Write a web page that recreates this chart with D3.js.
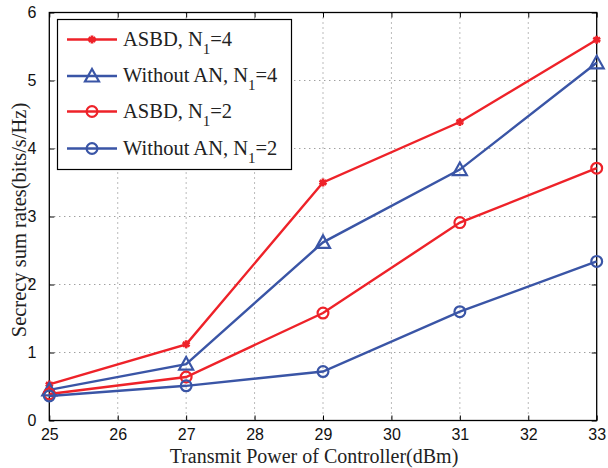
<!DOCTYPE html>
<html><head><meta charset="utf-8">
<script src="https://cdn.jsdelivr.net/npm/d3@7"></script>
<style>body{margin:0;background:#fff}</style>
</head><body>
<svg id="c" width="608" height="468"></svg>
<script>
const xValues = [25, 27, 29, 31, 33];
const asbd4 = [0.53, 1.12, 3.50, 4.39, 5.60];
const noAN4 = [0.45, 0.83, 2.62, 3.69, 5.26];
const asbd2 = [0.39, 0.64, 1.58, 2.91, 3.71];
const noAN2 = [0.36, 0.51, 0.72, 1.60, 2.34];
const xTicks = [25, 26, 27, 28, 29, 30, 31, 32, 33];
const yTicks = [0, 1, 2, 3, 4, 5, 6];
const seriesNames = ["ASBD, N", "Without AN, N", "ASBD, N", "Without AN, N"];
const seriesN = ["4", "4", "2", "2"];

const RED = "#ee2229", BLUE = "#3a55a6";
const series = [
  {vals: asbd4, color: RED, marker: "star"},
  {vals: noAN4, color: BLUE, marker: "tri"},
  {vals: asbd2, color: RED, marker: "circle"},
  {vals: noAN2, color: BLUE, marker: "circle"}
];

const svg = d3.select("#c");
const L = 49.3, R = 596.7, T = 12.5, B = 420.5;
const x = d3.scaleLinear().domain([25, 33]).range([L, R]);
const y = d3.scaleLinear().domain([0, 6]).range([B, T]);

// grid
const g = svg.append("g");
g.selectAll(".gx").data(xTicks.slice(1, -1)).join("line")
  .attr("x1", d => x(d)).attr("x2", d => x(d)).attr("y1", T).attr("y2", B)
  .attr("stroke", "#777").attr("stroke-width", 1).attr("stroke-dasharray", "1,4");
g.selectAll(".gy").data(yTicks.slice(1, -1)).join("line")
  .attr("y1", d => y(d)).attr("y2", d => y(d)).attr("x1", L).attr("x2", R)
  .attr("stroke", "#777").attr("stroke-width", 1).attr("stroke-dasharray", "1,4");

// axes
const fontTick = "'Liberation Sans', Arial, sans-serif";
const xAxis = d3.axisBottom(x).tickValues(xTicks).tickSize(-5).tickPadding(8).tickFormat(d3.format("d"));
const yAxis = d3.axisLeft(y).tickValues(yTicks).tickSize(-5).tickPadding(13).tickFormat(d3.format("d"));
const xTop = d3.axisTop(x).tickValues(xTicks).tickSize(-5).tickFormat("");
const yRight = d3.axisRight(y).tickValues(yTicks).tickSize(-5).tickFormat("");
function style(sel) {
  sel.select(".domain").remove();
  sel.selectAll("line").attr("stroke", "#000").attr("stroke-width", 1);
  sel.selectAll("text").attr("font-family", fontTick).attr("font-size", 16).attr("fill", "#111");
}
svg.append("g").attr("transform", `translate(0,${B})`).call(xAxis).call(style);
svg.append("g").attr("transform", `translate(${L},0)`).call(yAxis).call(style);
svg.append("g").attr("transform", `translate(0,${T})`).call(xTop).call(style);
svg.append("g").attr("transform", `translate(${R},0)`).call(yRight).call(style);
svg.append("rect").attr("x", L).attr("y", T).attr("width", R - L).attr("height", B - T)
  .attr("fill", "none").attr("stroke", "#000").attr("stroke-width", 1.3);

// titles
const fontSerif = "'Liberation Serif', 'Times New Roman', serif";
svg.append("text").attr("x", 314).attr("y", 463).attr("text-anchor", "middle")
  .attr("font-family", fontSerif).attr("font-size", 20).attr("fill", "#222")
  .text("Transmit Power of Controller(dBm)");
svg.append("text").attr("transform", `translate(26,220) rotate(-90)`).attr("text-anchor", "middle")
  .attr("font-family", fontSerif).attr("font-size", 20.5).attr("fill", "#222")
  .text("Secrecy sum rates(bits/s/Hz)");

function drawMarker(sel, m, color) {
  if (m === "star") {
    sel.append("path").attr("d", d3.symbol(d3.symbolAsterisk, 45)()).attr("fill", "none")
      .attr("stroke", color).attr("stroke-width", 2.8);
  } else if (m === "tri") {
    sel.append("path").attr("d", "M0,-7L7,5.5L-7,5.5Z").attr("fill", "none")
      .attr("stroke", color).attr("stroke-width", 2.2);
  } else {
    sel.append("circle").attr("r", 5.4).attr("fill", "none")
      .attr("stroke", color).attr("stroke-width", 2.2);
  }
}

const line = d3.line().x((d, i) => x(xValues[i])).y(d => y(d));
series.forEach(s => {
  svg.append("path").attr("d", line(s.vals)).attr("fill", "none")
    .attr("stroke", s.color).attr("stroke-width", 2.4);
  s.vals.forEach((v, i) => {
    const mg = svg.append("g").attr("transform", `translate(${x(xValues[i])},${y(v)})`);
    drawMarker(mg, s.marker, s.color);
  });
});

// legend
const lg = svg.append("g");
lg.append("rect").attr("x", 57.5).attr("y", 19.5).attr("width", 234).attr("height", 150)
  .attr("fill", "#fff").attr("stroke", "#000").attr("stroke-width", 1.2);
const rowY = [39.5, 76, 111.5, 148.5];
series.forEach((s, i) => {
  const ry = rowY[i];
  lg.append("line").attr("x1", 67).attr("x2", 117).attr("y1", ry).attr("y2", ry)
    .attr("stroke", s.color).attr("stroke-width", 2.4);
  const mg = lg.append("g").attr("transform", `translate(92,${ry})`);
  drawMarker(mg, s.marker, s.color);
  const t = lg.append("text").attr("x", 123).attr("y", ry + 6)
    .attr("font-family", fontSerif).attr("font-size", 20.5).attr("fill", "#222");
  t.append("tspan").text(seriesNames[i]);
  t.append("tspan").attr("font-size", 15).attr("dy", 8).text("1");
  t.append("tspan").attr("dy", -8).text("=" + seriesN[i]);
});
</script>
</body></html>
